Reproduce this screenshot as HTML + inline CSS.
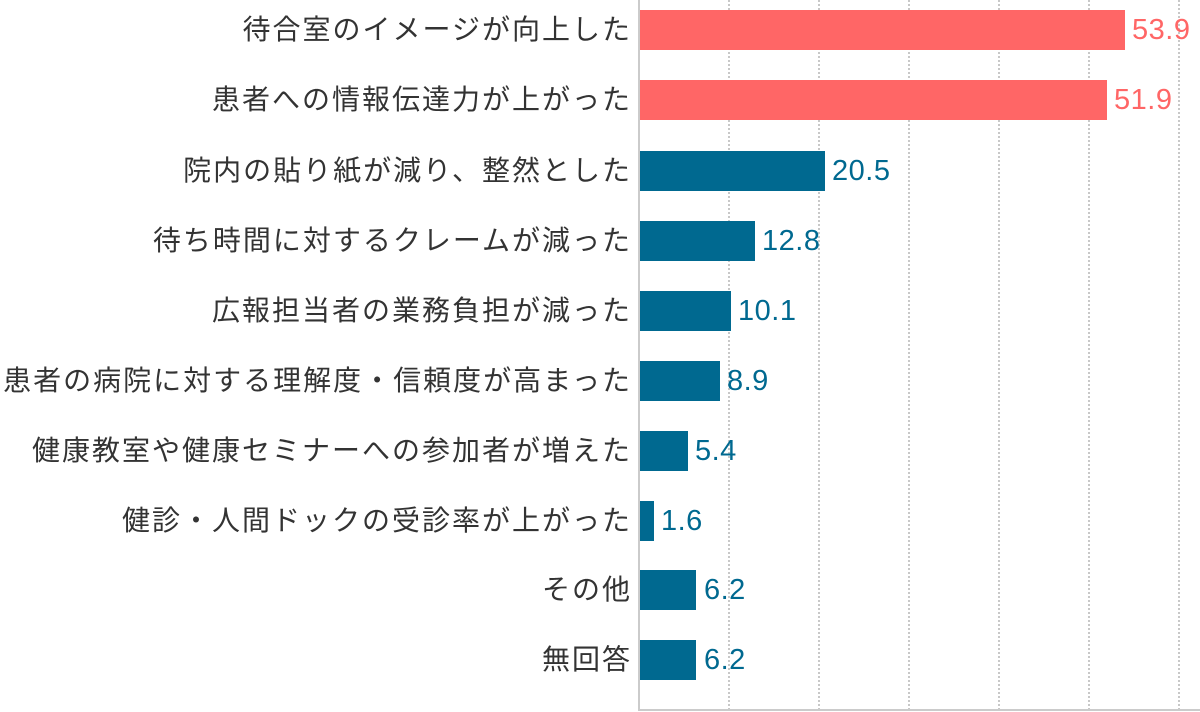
<!DOCTYPE html>
<html><head><meta charset="utf-8"><style>
body{margin:0;background:#fff;}
.c{position:relative;width:1200px;height:712px;overflow:hidden;font-family:"Liberation Sans","Noto Sans CJK JP",sans-serif;}
.g{position:absolute;top:0;height:710px;border-left:2px dotted #c8c8c8;}
.ax{position:absolute;left:638px;top:0;width:2px;height:711px;background:#cbcbcb;}
.bx{position:absolute;left:638px;top:709px;width:562px;height:2px;background:#cbcbcb;}
.b{position:absolute;left:640px;height:40px;}
.l{position:absolute;right:568px;font-size:28px;letter-spacing:2px;color:#333;white-space:nowrap;line-height:40px;}
.v{position:absolute;font-size:29px;letter-spacing:0.5px;line-height:40px;}
</style></head><body><div class="c">
<div class="g" style="left:728px"></div><div class="g" style="left:818px"></div><div class="g" style="left:908px"></div><div class="g" style="left:998px"></div><div class="g" style="left:1088px"></div><div class="g" style="left:1178px"></div>

<div class="l" style="top:10px">待合室のイメージが向上した</div><div class="b" style="top:10px;width:485px;background:#ff6666"></div><div class="v" style="top:10px;left:1132px;color:#ff6666">53.9</div>
<div class="l" style="top:80px">患者への情報伝達力が上がった</div><div class="b" style="top:80px;width:467px;background:#ff6666"></div><div class="v" style="top:80px;left:1114px;color:#ff6666">51.9</div>
<div class="l" style="top:151px">院内の貼り紙が減り、整然とした</div><div class="b" style="top:151px;width:185px;background:#006990"></div><div class="v" style="top:151px;left:832px;color:#006990">20.5</div>
<div class="l" style="top:221px">待ち時間に対するクレームが減った</div><div class="b" style="top:221px;width:115px;background:#006990"></div><div class="v" style="top:221px;left:762px;color:#006990">12.8</div>
<div class="l" style="top:291px">広報担当者の業務負担が減った</div><div class="b" style="top:291px;width:91px;background:#006990"></div><div class="v" style="top:291px;left:738px;color:#006990">10.1</div>
<div class="l" style="top:361px">患者の病院に対する理解度・信頼度が高まった</div><div class="b" style="top:361px;width:80px;background:#006990"></div><div class="v" style="top:361px;left:727px;color:#006990">8.9</div>
<div class="l" style="top:431px">健康教室や健康セミナーへの参加者が増えた</div><div class="b" style="top:431px;width:48px;background:#006990"></div><div class="v" style="top:431px;left:695px;color:#006990">5.4</div>
<div class="l" style="top:501px">健診・人間ドックの受診率が上がった</div><div class="b" style="top:501px;width:14px;background:#006990"></div><div class="v" style="top:501px;left:661px;color:#006990">1.6</div>
<div class="l" style="top:570px">その他</div><div class="b" style="top:570px;width:56px;background:#006990"></div><div class="v" style="top:570px;left:704px;color:#006990">6.2</div>
<div class="l" style="top:640px">無回答</div><div class="b" style="top:640px;width:56px;background:#006990"></div><div class="v" style="top:640px;left:704px;color:#006990">6.2</div>

<div class="ax"></div><div class="bx"></div>
</div></body></html>
